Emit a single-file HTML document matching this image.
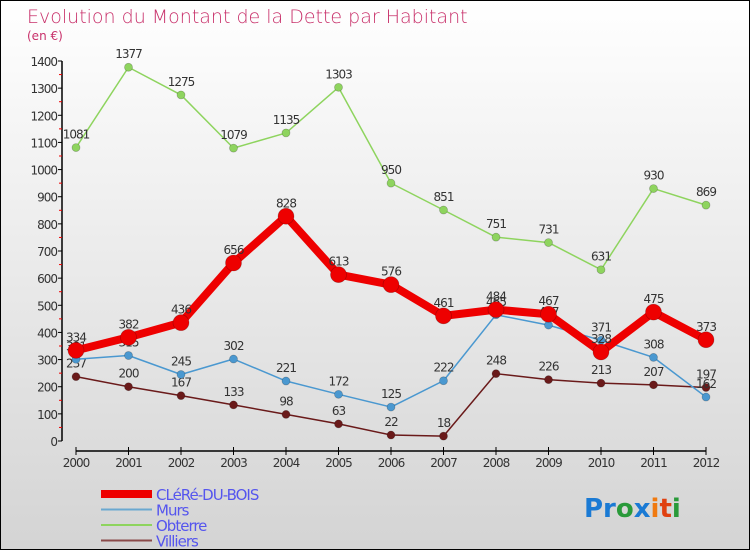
<!DOCTYPE html>
<html><head><meta charset="utf-8"><style>
body{margin:0}
#c{width:748px;height:548px;border:1px solid #000;background:linear-gradient(#fff,#d4d4d4);position:relative;overflow:hidden;font-family:"DejaVu Sans","Liberation Sans",sans-serif}
text{font-family:"DejaVu Sans","Liberation Sans",sans-serif}
</style></head><body>
<div id="c">
<svg id="s" width="748" height="548">
<text x="26" y="22" font-size="19" fill="#c8306a" style="font-weight:200">Evolution du Montant de la Dette par Habitant</text>
<text x="26" y="39" font-size="12" fill="#c8306a">(en €)</text>
<g id="g"></g>
<text x="583" y="516" font-size="26" font-weight="bold"><tspan fill="#1a7ad4">Pr</tspan><tspan fill="#2a9a3a">o</tspan><tspan fill="#1a7ad4">x</tspan><tspan fill="#f07a10">i</tspan><tspan fill="#e04010">t</tspan><tspan fill="#2a9a3a">i</tspan></text>
</svg></div>
<script>
const years=[2000,2001,2002,2003,2004,2005,2006,2007,2008,2009,2010,2011,2012];
const clere=[334,382,436,656,828,613,576,461,484,467,328,475,373];
const murs=[301,315,245,302,221,172,125,222,465,427,371,308,162];
const obterre=[1081,1377,1275,1079,1135,1303,950,851,751,731,631,930,869];
const villiers=[237,200,167,133,98,63,22,18,248,226,213,207,197];
const yTicks=[0,100,200,300,400,500,600,700,800,900,1000,1100,1200,1300,1400];
const NS="http://www.w3.org/2000/svg";
const g=document.getElementById('g');
const X=i=>75+i*52.5, Y=v=>440-v*380/1400;
function mk(t,a,p){const e=document.createElementNS(NS,t);for(const k in a)e.setAttribute(k,a[k]);(p||g).appendChild(e);return e;}
let ax=mk('line',{x1:61,y1:Y(0),x2:61,y2:Y(1400),stroke:'#000','stroke-width':1.5});


yTicks.forEach(v=>{
 mk('line',{x1:57,y1:Y(v),x2:61,y2:Y(v),stroke:'#000'});
 if(v<1400) mk('line',{x1:58,y1:Y(v+50),x2:61,y2:Y(v+50),stroke:'#e00'});
 const t=mk('text',{x:56,y:Y(v)+5,'text-anchor':'end','font-size':12,fill:'#333','letter-spacing':'-1'});t.textContent=v;
 
 
});
let xa=mk('line',{x1:X(0),y1:450,x2:X(12),y2:450,stroke:'#000','stroke-width':1.5});


years.forEach((y,i)=>{
 mk('line',{x1:X(i),y1:446,x2:X(i),y2:454,stroke:'#000'});
 const t=mk('text',{x:X(i),y:466,'text-anchor':'middle','font-size':12,fill:'#333','letter-spacing':'-1'});t.textContent=y;
 
 
});
function series(d,col,w,r,name){
 const s=mk('g',{});
 
 
 mk('polyline',{points:d.map((v,i)=>X(i)+','+Y(v)).join(' '),fill:'none',stroke:col,'stroke-width':w,'stroke-linejoin':'round'},s);
 d.forEach((v,i)=>{
  const c=mk('circle',{cx:X(i),cy:Y(v),r:r,fill:col,stroke:'rgba(0,0,0,0.25)','stroke-width':0.7},s);
  
  
  const t=mk('text',{x:X(i),y:Y(v)-9,'text-anchor':'middle','font-size':12,fill:'#333','letter-spacing':'-1'},s);t.textContent=v;
  
  
 });
}
series(obterre,'#8ed45e',1.5,4,'obterre');
series(villiers,'#6a1a1a',1.5,4,'villiers');
series(murs,'#4a98d0',1.5,4,'murs');
series(clere,'#ee0000',8,8,'clere');
const leg=[['CLéRé-DU-BOIS','#ee0000',8],['Murs','#6aa8d0',2],['Obterre','#8ed45e',2],['Villiers','#8a4a4a',2]];
leg.forEach((l,i)=>{
 const y=493+i*15.5;
 const e=mk('g',{});
 
 
 mk('line',{x1:100,y1:y,x2:151,y2:y,stroke:l[1],'stroke-width':l[2]},e);
 const t=mk('text',{x:155,y:y+6,'font-size':15,fill:'#5555ee','letter-spacing':'-1'},e);t.textContent=l[0];
});
</script>
</body></html>
